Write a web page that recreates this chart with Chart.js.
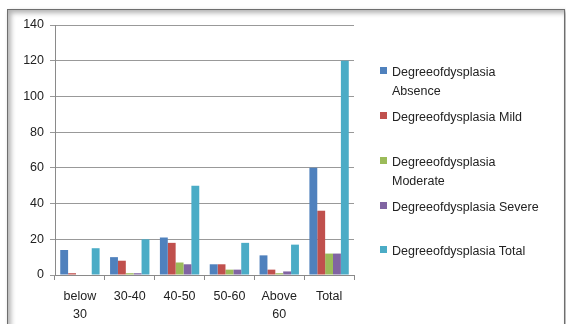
<!DOCTYPE html>
<html>
<head>
<meta charset="utf-8">
<script src="https://cdn.jsdelivr.net/npm/chart.js@4"></script>
<style>
  html, body { margin:0; padding:0; background:#fff; }
  #wrap { position:relative; width:566px; height:324px; overflow:hidden; }
  #frame { position:absolute; left:7px; top:9px; width:556px; height:330px;
    border:1px solid #6e6e6e; box-shadow: inset 3px 3px 5px rgba(0,0,0,0.3), 2px 2px 4px rgba(0,0,0,0.35); }
  #chart { position:absolute; left:0; top:0; }
  #legend { position:absolute; left:380px; top:0; font-family:"Liberation Sans", Arial, sans-serif;
    font-size:12.5px; color:#222; }
  .item { position:absolute; left:0; width:170px; }
  .sw { position:absolute; left:0; top:4px; width:7px; height:7px; }
  .txt { position:absolute; left:12px; top:0; line-height:19px; white-space:nowrap; }
</style>
</head>
<body>
<div id="wrap">
  <div id="frame"></div>
  <canvas id="chart" width="566" height="324"></canvas>
  <div id="legend"></div>
</div>
<script>
// age groups along the x axis
const categories = [['below', '30'], '30-40', '40-50', '50-60', ['Above', '60'], 'Total'];

// patient counts per degree of dysplasia
const absence  = [14, 10, 21, 6, 11, 60];
const mild     = [1, 8, 18, 6, 3, 36];
const moderate = [0, 1, 7, 3, 1, 12];
const severe   = [0, 1, 6, 3, 2, 12];
const total    = [15, 20, 50, 18, 17, 120];

const seriesNames = [
  ['Degreeofdysplasia', 'Absence'],
  ['Degreeofdysplasia Mild'],
  ['Degreeofdysplasia', 'Moderate'],
  ['Degreeofdysplasia Severe'],
  ['Degreeofdysplasia Total']
];
const seriesColors = ['#4F81BD', '#C0504D', '#9BBB59', '#8064A2', '#4BACC6'];
const legendTops = [63, 108, 153, 198, 242];

const yTicks = [0, 20, 40, 60, 80, 100, 120, 140];

const allData = [absence, mild, moderate, severe, total];
const font = { family: '"Liberation Sans", Arial, sans-serif', size: 12.5, lineHeight: 1.4 };

const ctx = document.getElementById('chart').getContext('2d');
new Chart(ctx, {
  type: 'bar',
  data: {
    labels: categories,
    datasets: allData.map((d, i) => ({
      label: seriesNames[i].join(' '),
      data: d,
      backgroundColor: seriesColors[i],
      borderWidth: 0,
      barPercentage: 1,
      categoryPercentage: 0.79
    }))
  },
  options: {
    responsive: false,
    animation: false,
    layout: { padding: { left: 8, top: 25, right: 212, bottom: 0 } },
    plugins: { legend: { display: false }, tooltip: { enabled: false } },
    scales: {
      x: {
        grid: { display: true, drawOnChartArea: false, color: '#8a8a8a', tickLength: 5, offset: true },
        border: { color: '#8a8a8a' },
        ticks: { color: '#222', font: font, maxRotation: 0, padding: 8 },
        afterFit: s => { s.height = 49; }
      },
      y: {
        min: 0, max: 140,
        afterBuildTicks: s => { s.ticks = yTicks.map(v => ({ value: v })); },
        grid: { color: '#999999', tickLength: 5, lineWidth: 1 },
        border: { color: '#8a8a8a' },
        ticks: { color: '#222', font: font, padding: 6 },
        afterFit: s => { s.width = 47; }
      }
    }
  }
});

// legend on the right, built from the same series list
const legend = document.getElementById('legend');
seriesNames.forEach((name, i) => {
  const item = document.createElement('div');
  item.className = 'item';
  item.style.top = legendTops[i] + 'px';
  const sw = document.createElement('div');
  sw.className = 'sw'; sw.style.background = seriesColors[i];
  const txt = document.createElement('div');
  txt.className = 'txt'; txt.innerHTML = name.join('<br>');
  item.appendChild(sw); item.appendChild(txt);
  legend.appendChild(item);
});
</script>
</body>
</html>
